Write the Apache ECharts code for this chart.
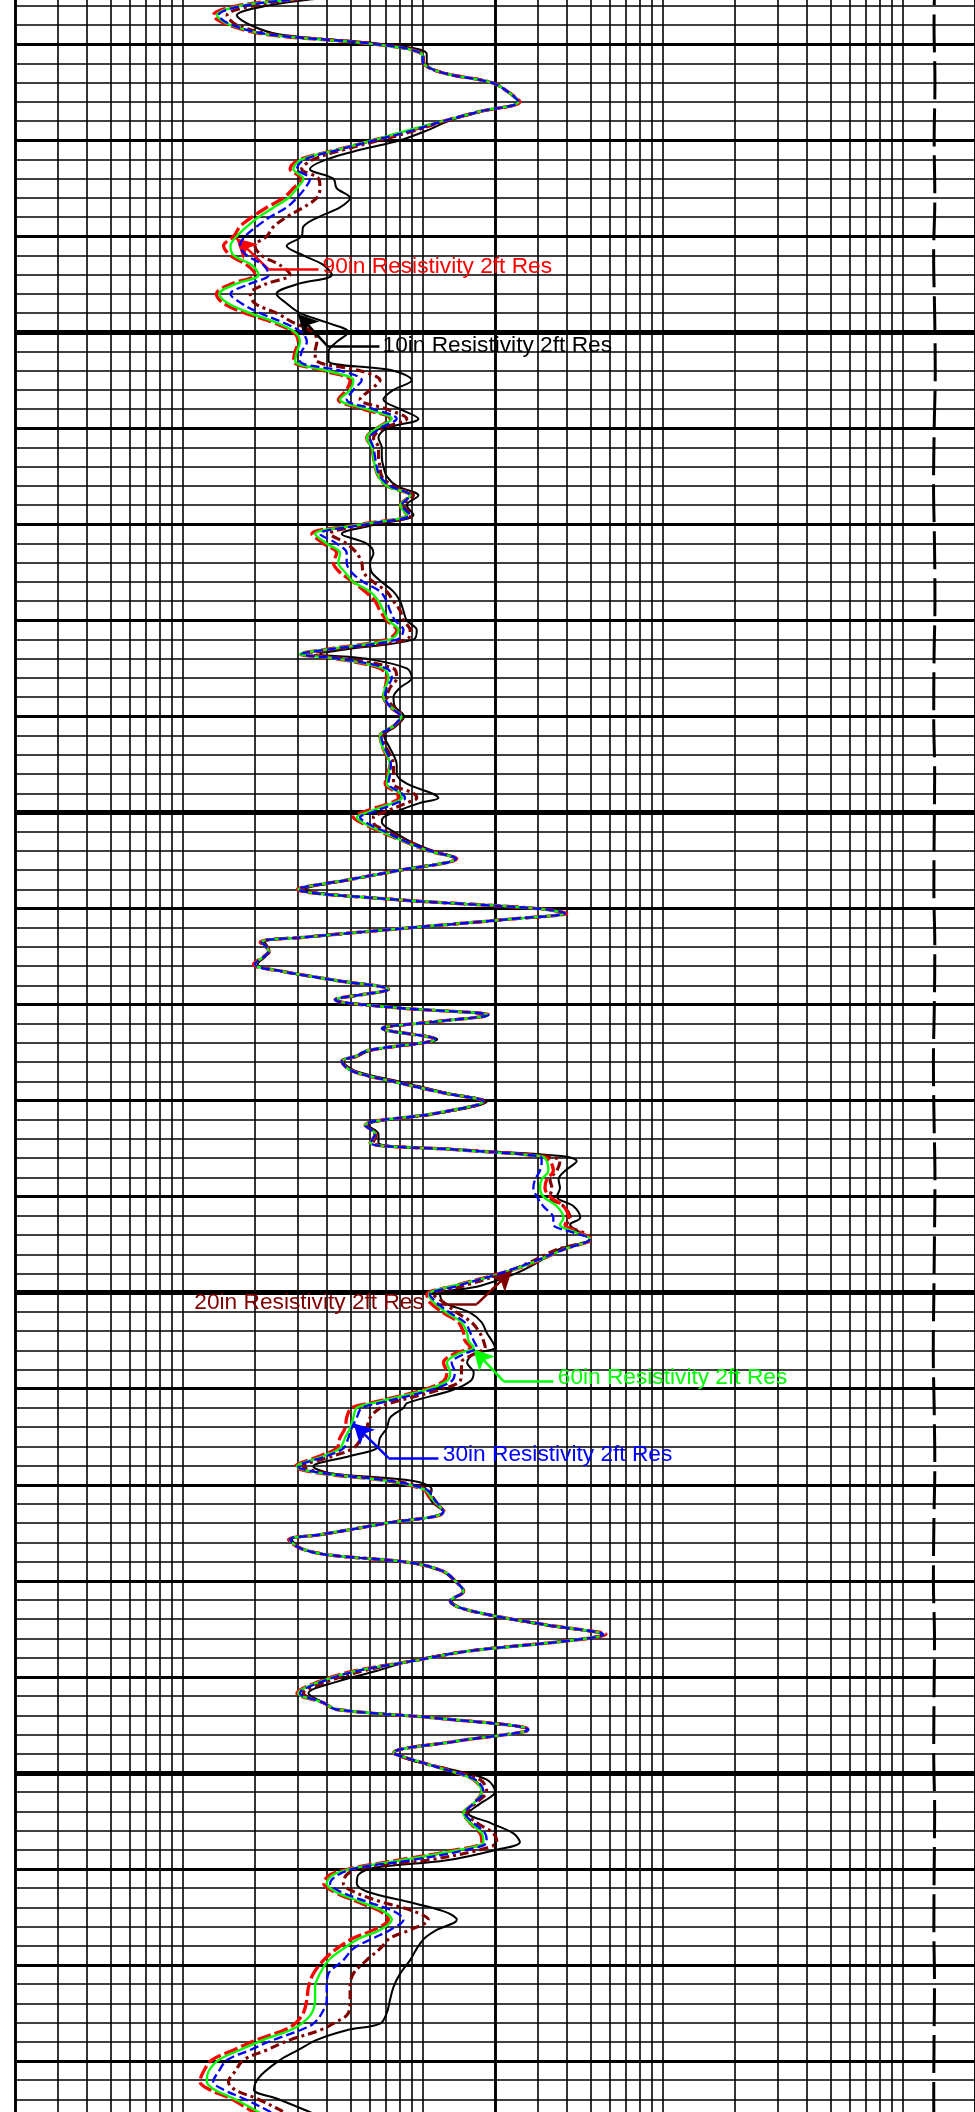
<!DOCTYPE html>
<html>
<head>
<meta charset="utf-8">
<script src="https://cdn.jsdelivr.net/npm/echarts/dist/echarts.min.js"></script>
<style>
html,body{margin:0;padding:0;background:#ffffff;overflow:hidden;}
#chart{width:975px;height:2112px;}
</style>
</head>
<body>
<div id="chart"></div>
<script>
// Depth (ft) of each sample, shared by all five resistivity curves
const depth = [
5014.5,5015,5016,5017,5018,5019,5020,5021,5022,5023,5024,5025,5026,5027,5028,5029,5030,5031,5032,5033,5034,5035,5036,5037,5038,5039,5040,5041,5042,5043,5044,5045,5046,5047,5048,5049,5050,5051,
5052,5053,5054,5055,5056,5057,5058,5059,5060,5061,5062,5063,5064,5065,5066,5067,5068,5069,5070,5071,5072,5073,5074,5075,5076,5077,5078,5079,5080,5081,5082,5083,5083.5,5084,5085,5086,5087,5088,
5089,5090,5091,5092,5093,5094,5095,5096,5097,5098,5098.5,5099,5100,5100.5,5101,5102,5103,5104,5104.8,5106,5107,5108,5109,5110,5110.5,5111.1,5112,5113,5113.5,5114.4,5115.8,5116.5,5117.5,5118.4,5119.5,5120.3,5121.1,5121.8,5122.5,5123.6,5124.8,
5125.35,5125.9,5126.9,5128.1,5129.2,5130.1,5131.3,5132.6,5133.5,5134.4,5135.1,5135.8,5136.3,5137.3,5138.2,5139.1,5140,5141,5142.2,5142.9,5143.75,5144.4,5145.5,5146.9,5148.1,5149.3,5150.2,5151,5152.1,5153.1,5154.2,5155,5155.7,5156.4,5157.3,5158.3,5159.2,5160.1,5161.5,
5162,5163,5164.1,5165.1,5166.2,5167,5168.1,5168.8,5169.6,5170.5,5171.4,5172.8,5174,5175.2,5175.7,5176.6,5177.3,5178.1,5179,5180,5181.1,5182.1,5182.8,5183.7,5184.6,5185.6,5186.3,5187.3,5188.4,5189.4,5190.5,5191.7,5192.7,5193.4,5194.3,5195.5,5196.7,5197.9,
5198.65,5199.7,5200.7,5201.95,5203.2,5204.2,5205.2,5206.3,5207.2,5208,5209.1,5209.9,5210.6,5211.5,5212.35,5213.4,5214.4,5215.3,5216.35,5217.2,5218.3,5219.5,5220.9,5222.3,5223.6,5225,5226.1,5226.8,5227.8,5228.85,5229.9,5231.1,5232.15,5233,5233.9,5235.1,5236
];

// 90in Resistivity 2ft Res (ohm.m)
const res90 = [
5.0,3.73,1.68,1.34,1.55,2.24,6.23,9.90,10.06,12.19,19.39,22.75,25.4,17.34,12.19,8.86,6.23,4.38,3.08,2.80,3.13,2.89,2.63,2.24,1.94,1.73,1.63,1.48,1.58,1.85,2.00,1.58,1.38,1.48,1.82,2.39,2.89,3.03,
2.94,2.89,3.86,4.98,4.82,4.45,5.66,7.31,6.43,5.84,6.13,6.23,6.33,6.54,7.08,8.86,8.05,8.58,5.48,3.45,3.86,4.38,4.24,4.52,5.14,5.75,6.33,6.64,7.08,7.79,7.08,3.98,3.08,4.38,6.64,7.08,6.97,6.86,
7.31,8.10,7.55,6.64,6.75,7.04,7.31,7.12,6.97,7.79,7.92,7.31,5.57,5.14,5.48,6.64,8.31,10.56,13.86,8.05,4.90,3.00,7.08,29.85,39.8,23.12,8.86,3.18,2.10,2.28,1.97,2.54,4.38,7.19,4.31,7.55,18.9,11.08,6.75,11.26,5.84,
5.31,4.60,5.06,7.79,12.19,17.9,11.44,5.75,6.33,6.03,13.64,31.3,33.9,35.0,32.9,32.3,33.9,38.6,40.5,39.2,45.3,50.6,38.6,28.9,20.3,13.4,10.4,10.7,12.2,14.1,14.8,15.0,15.8,13.4,12.2,12.6,12.2,10.1,6.0,
5.06,4.82,4.75,4.52,4.38,3.73,2.94,3.73,7.08,10.06,10.73,12.3,7.0,3.73,2.76,3.08,4.05,8.86,12.19,13.64,14.77,13.0,14.31,20.34,32.87,58.0,38.55,15.75,8.86,5.14,3.68,2.99,3.86,4.38,11.44,27.8,13.86,7.55,
9.15,12.59,16.26,17.62,16.26,14.77,15.75,17.34,17.62,13.86,7.79,5.14,4.11,3.86,4.24,5.31,6.64,7.19,6.23,5.14,4.38,3.86,3.50,3.34,3.29,3.18,2.94,2.63,2.03,1.63,1.32,1.22,1.18,1.30,1.58,1.91,2.2
];

// 60in Resistivity 2ft Res
const res60 = [
5.1,3.80,1.73,1.39,1.58,2.28,6.23,9.90,10.06,12.19,19.39,22.75,25.0,17.34,12.19,8.58,6.23,4.38,3.13,2.89,3.18,2.99,2.76,2.39,2.07,1.85,1.68,1.58,1.63,1.94,2.07,1.65,1.42,1.55,1.91,2.46,2.94,3.08,
2.99,2.94,3.98,5.14,4.98,4.52,5.84,7.43,6.43,5.84,6.13,6.23,6.33,6.54,7.08,8.86,8.05,8.58,5.57,3.56,3.98,4.52,4.45,4.75,5.14,6.03,6.54,6.86,7.19,7.92,7.31,4.05,3.08,4.45,6.86,7.19,6.97,6.86,
7.36,8.15,7.55,6.64,6.75,7.08,7.31,7.19,7.08,8.05,8.18,7.55,5.84,5.31,5.57,6.75,8.31,10.56,13.77,8.05,4.90,3.03,7.08,29.85,39.2,23.12,8.86,3.18,2.13,2.28,2.00,2.54,4.38,7.19,4.31,7.55,18.78,11.08,6.75,11.26,5.84,
5.31,4.60,5.06,7.79,12.19,17.9,11.44,5.75,6.33,6.03,13.64,31.3,32.9,33.4,31.3,30.8,31.8,36.2,38.6,37.3,43.8,49.8,38.6,28.5,20.7,13.4,10.6,11.1,12.6,14.5,15.3,15.5,16.3,13.9,12.6,13.0,12.6,10.4,6.2,
5.31,5.14,4.98,4.75,4.52,3.86,2.99,3.80,7.19,10.2,10.9,12.19,7.0,3.73,2.80,3.08,4.05,8.86,12.19,13.64,14.77,13.0,14.31,20.34,32.87,56.6,38.55,15.75,8.86,5.23,3.73,3.03,3.86,4.38,11.44,27.55,13.86,7.55,
9.15,12.59,16.26,17.62,16.26,14.77,15.75,17.62,17.90,14.31,8.05,5.23,4.24,3.98,4.31,5.48,6.86,7.43,6.64,5.48,4.67,4.05,3.73,3.56,3.56,3.45,3.13,2.80,2.17,1.73,1.41,1.28,1.26,1.36,1.63,2.00,2.3
];

// 30in Resistivity 2ft Res
const res30 = [
5.2,3.86,1.79,1.41,1.60,2.31,6.33,9.90,10.06,12.19,19.39,22.75,25.0,17.34,12.19,9.00,6.33,4.45,3.23,2.99,3.39,3.23,2.99,2.71,2.31,2.03,1.82,1.73,1.85,2.17,2.28,1.88,1.58,1.76,2.10,2.63,3.13,3.29,
3.13,3.08,4.52,5.57,5.14,4.82,6.23,7.79,6.64,6.03,6.23,6.33,6.43,6.64,7.31,8.86,8.18,8.86,5.75,3.73,4.38,4.82,4.82,5.06,5.66,6.64,7.08,7.31,7.67,8.31,7.79,4.11,3.13,4.52,7.08,7.43,7.08,6.97,
7.31,8.10,7.55,6.71,6.86,7.17,7.36,7.31,7.19,8.18,8.44,7.79,6.13,5.48,5.75,6.97,8.44,10.73,13.77,8.05,4.90,3.03,7.08,29.85,39.2,23.12,8.86,3.18,2.13,2.28,2.00,2.54,4.38,7.19,4.31,7.55,18.78,11.08,6.75,11.26,5.84,
5.31,4.60,5.06,7.79,12.19,17.9,11.44,5.75,6.33,6.03,13.64,30.8,31.3,30.8,29.4,28.9,29.9,31.8,35.0,35.0,42.5,49.8,38.6,28.0,20.3,13.9,10.7,11.4,13.0,15.0,15.8,16.3,16.8,14.8,13.2,13.6,13.2,10.9,6.6,
5.57,5.31,5.06,4.90,4.67,3.98,3.03,3.86,7.31,10.39,11.08,12.19,7.0,3.73,2.80,3.08,4.05,8.86,12.19,13.64,14.77,13.0,14.31,20.34,32.87,56.6,38.55,15.75,8.86,5.31,3.80,3.08,3.86,4.38,11.44,27.55,13.86,7.55,
9.15,12.59,16.52,17.9,16.26,15.01,16.26,18.19,18.48,15.25,8.86,5.31,4.45,4.11,4.52,5.84,7.55,8.31,7.31,6.23,5.14,4.67,4.05,3.98,3.98,3.80,3.50,3.08,2.39,1.91,1.53,1.41,1.34,1.48,1.79,2.24,2.6
];

// 20in Resistivity 2ft Res
const res20 = [
5.4,3.98,1.97,1.53,1.68,2.39,6.43,10.0,10.1,12.2,19.4,22.8,25.0,17.5,12.4,9.29,6.64,4.67,3.50,3.13,3.68,3.73,3.62,3.18,2.71,2.39,2.24,2.00,2.13,2.54,2.80,2.20,1.91,2.00,2.46,2.89,3.50,3.62,
3.56,3.62,5.48,6.64,6.03,5.48,7.08,8.58,6.86,6.23,6.54,6.54,6.64,6.75,7.55,9.15,8.31,9.00,6.03,4.11,4.82,5.31,5.57,5.66,6.23,7.08,7.55,8.05,8.31,8.86,8.58,4.38,3.39,4.82,7.55,7.79,7.31,7.08,
7.55,8.26,7.67,6.82,6.97,7.31,7.55,7.55,7.55,9.15,9.44,8.58,6.86,6.23,6.23,7.19,8.72,10.90,13.77,8.1,4.95,3.1,7.1,29.9,39.2,23.2,8.9,3.2,2.15,2.3,2.02,2.55,4.4,7.2,4.33,7.6,18.8,11.1,6.8,11.3,5.9,
5.35,4.62,5.1,7.9,12.3,18.0,11.6,5.8,6.4,6.2,13.8,32.9,37.3,36.2,33.9,34.5,33.9,38.6,41.1,39.8,46.7,49.8,36.2,27.6,21.0,14.8,11.1,12.2,13.9,16.0,17.3,17.9,18.2,16.3,14.5,14.5,14.3,11.8,7.3,
6.64,6.03,5.84,5.57,5.14,4.24,3.18,3.98,7.55,10.56,11.08,12.19,7.0,3.75,2.82,3.1,4.05,8.8,12.1,13.6,14.8,13.1,14.3,20.3,32.5,56.0,38.5,15.6,8.8,5.6,4.0,3.18,3.86,4.38,11.4,27.4,13.8,7.55,
9.0,13.0,17.34,18.48,16.52,15.25,16.79,19.70,20.34,17.34,10.39,5.57,4.82,4.67,5.14,6.64,9.15,10.56,8.86,7.31,6.64,5.84,5.14,4.98,4.98,4.90,4.24,3.73,2.80,2.24,1.79,1.65,1.55,1.65,2.03,2.54,2.9
];

// 10in Resistivity 2ft Res
const res10 = [
6.0,4.38,2.24,1.68,1.91,2.54,6.86,10.39,10.39,12.3,19.5,22.9,25.2,17.8,12.8,10.39,8.05,5.48,3.98,3.39,4.24,4.38,4.98,4.52,3.68,3.18,3.13,2.71,3.18,3.86,4.18,2.99,2.46,2.71,3.08,4.00,4.90,4.38,
4.05,4.05,7.55,9.00,7.55,6.86,8.05,9.59,7.08,6.54,6.75,6.75,6.86,7.08,7.79,9.59,8.58,9.15,6.43,4.60,5.84,6.23,6.03,6.13,6.75,7.55,8.05,8.31,8.58,9.44,9.15,4.82,3.73,5.84,8.58,9.00,8.05,7.55,
7.67,8.36,7.74,6.90,7.19,7.55,7.79,7.79,8.58,10.90,11.62,9.75,7.55,6.86,6.75,7.55,8.86,11.08,13.9,8.2,5.0,3.25,7.0,29.5,39.0,23.3,9.0,3.25,2.2,2.3,2.05,2.6,4.45,7.25,4.4,7.6,18.7,11.2,6.9,11.5,6.0,
5.4,4.67,5.23,8.31,12.6,18.48,11.8,5.9,6.54,6.54,14.3,38.6,43.8,39.2,36.8,37.3,36.2,42.5,45.3,41.1,45.3,49.8,36.8,29.9,23.9,17.3,11.8,12.2,15.8,17.6,18.5,19.4,20.0,16.3,15.3,16.3,15.8,13.4,8.6,
8.31,7.31,7.08,6.64,6.43,4.98,3.50,4.11,9.15,10.9,10.73,12.19,7.1,3.8,2.85,3.1,4.0,8.7,12.0,13.6,14.9,13.2,14.3,20.3,32.0,55.5,38.5,15.3,8.7,6.4,4.4,3.34,3.86,4.38,11.4,27.3,13.8,7.6,
8.86,13.42,18.48,20.02,17.34,15.5,19.1,23.87,25.4,20.34,12.59,6.23,5.40,5.31,5.84,8.58,12.19,13.86,11.44,10.2,9.44,8.86,8.05,7.55,7.31,7.08,6.64,4.82,3.62,3.03,2.54,2.20,2.02,1.98,2.46,3.23,3.9
];

// Unlabelled dashed curve near the right edge of the track
const refDepth = [5012,5018,5024,5030,5036,5042,5048,5054,5060,5066,5072,5078,5084,5090,5096,5102,5108,5114,5120,5126,5132,5138,5144,5150,5156,5162,5168,5174,5180,5186,5192,5198,5204,5210,5216,5222,5228,5234,5240];
const refValue = [1365,1350,1362,1352,1360,1345,1358,1366,1352,1344,1356,1362,1350,1346,1358,1352,1348,1360,1354,1342,1350,1362,1356,1348,1340,1352,1360,1348,1342,1356,1350,1346,1358,1352,1348,1356,1350,1346,1354];

// Visible depth window and grid line spacing (ft)
const depthTop = 5015.4, depthBottom = 5235.31;
const gridStepThin = 2, gridStepThick = 10, gridStepHeavy = 50;

// Vertical grid lines on the 0.2 - 2000 logarithmic scale
const minorGridValues = [0.3,0.4,0.5,0.6,0.7,0.8,0.9,1,2,3,4,5,6,7,8,9,10,30,40,50,60,70,80,90,100,200,300,400,500,600,700,800,900,1000];
const majorGridValues = [0.2,20,2000];

// Curve labels: text, arrow tip, elbow, end of leader, text anchor
const labelText = ['10in Resistivity 2ft Res','20in Resistivity 2ft Res','30in Resistivity 2ft Res','60in Resistivity 2ft Res','90in Resistivity 2ft Res'];
const labelTip = [[3.02,5048.1],[23.5,5147.7],[5.14,5163.6],[16.26,5155.9],[1.67,5040.2]];
const labelElbow = [[4.03,5051.5],[16.8,5151.2],[7.19,5167.2],[21.7,5159.2],[2.28,5043.45]];
const labelEnd = [[6.6,5051.5],[11.44,5151.2],[11.62,5167.2],[35.0,5159.2],[3.68,5043.45]];
const labelPos = [[6.7,5051.4,'right'],[10.25,5151.0,'left'],[11.95,5166.9,'right'],[36.0,5158.9,'right'],[3.77,5043.2,'right']];

const FONT = 'Liberation Sans, Arial, Helvetica, sans-serif';

function pairs(vals, ds) { return vals.map(function (v, i) { return [v, ds[i]]; }); }

function annot(i, color) {
  return {
    markLine: {
      silent: true, animation: false, z: 8,
      symbol: ['arrow', 'none'], symbolSize: [16, 20],
      label: {show: false},
      emphasis: {disabled: true},
      lineStyle: {color: color, width: 2.5, type: 'solid'},
      data: [
        [{coord: labelTip[i]}, {coord: labelElbow[i]}],
        [{coord: labelElbow[i], symbol: 'none'}, {coord: labelEnd[i], symbol: 'none'}]
      ]
    },
    markPoint: {
      silent: true, animation: false, z: 9,
      symbol: 'rect', symbolSize: 1, itemStyle: {color: 'rgba(0,0,0,0)'},
      data: [{
        coord: [labelPos[i][0], labelPos[i][1]],
        label: {show: true, position: labelPos[i][2], distance: 1, formatter: labelText[i],
                color: color, fontSize: 22.7, fontFamily: FONT}
      }]
    }
  };
}

function curve(name, vals, color, width, type, z, idx) {
  const s = {
    name: name, type: 'line', data: pairs(vals, depth),
    showSymbol: false, symbol: 'none', smooth: 0.35, z: z, clip: true,
    lineStyle: {color: color, width: width, type: type},
    emphasis: {disabled: true}
  };
  return Object.assign(s, annot(idx, color));
}

// grid lines (vertical: log values, horizontal: depth)
const gridLines = [];
minorGridValues.forEach(function (v) {
  gridLines.push({xAxis: v, lineStyle: {color: '#000', width: 1.6, type: 'solid'}});
});
majorGridValues.forEach(function (v) {
  gridLines.push({xAxis: v, lineStyle: {color: '#000', width: 2.9, type: 'solid'}});
});
for (let d = Math.ceil(depthTop / gridStepThin) * gridStepThin; d <= depthBottom; d += gridStepThin) {
  let w = 1.7;
  if (d % gridStepHeavy === 0) w = 4.8;
  else if (d % gridStepThick === 0) w = 3.1;
  gridLines.push({yAxis: d, lineStyle: {color: '#000', width: w, type: 'solid'}});
}

const chart = echarts.init(document.getElementById('chart'), null, {renderer: 'canvas', width: 975, height: 2112});
chart.setOption({
  animation: false,
  backgroundColor: '#ffffff',
  grid: {left: 15, right: 0, top: 0, bottom: 0, containLabel: false},
  xAxis: {
    type: 'log', logBase: 10, min: 0.2, max: 2000,
    axisLine: {show: false}, axisTick: {show: false}, axisLabel: {show: false}, splitLine: {show: false}
  },
  yAxis: {
    type: 'value', inverse: true, min: depthTop, max: depthBottom,
    axisLine: {show: false}, axisTick: {show: false}, axisLabel: {show: false}, splitLine: {show: false}
  },
  series: [
    {
      name: 'ref', type: 'line', data: pairs(refValue, refDepth), showSymbol: false, symbol: 'none',
      smooth: 0.4, z: 3, lineStyle: {color: '#000', width: 3.0, type: [38, 9]}, emphasis: {disabled: true},
      markLine: {silent: true, animation: false, z: 1, symbol: 'none', label: {show: false},
                 emphasis: {disabled: true}, data: gridLines}
    },
    curve('10in Resistivity 2ft Res', res10, '#000000', 2.0, 'solid', 4, 0),
    curve('20in Resistivity 2ft Res', res20, '#800000', 3.1, [9, 4, 3, 4], 5, 1),
    curve('90in Resistivity 2ft Res', res90, '#ff0000', 3.3, [14, 4], 6, 4),
    curve('60in Resistivity 2ft Res', res60, '#00ff00', 2.3, 'solid', 7, 3),
    curve('30in Resistivity 2ft Res', res30, '#0000ff', 2.3, [9, 4], 8, 2)
  ]
});
</script>
</body>
</html>
